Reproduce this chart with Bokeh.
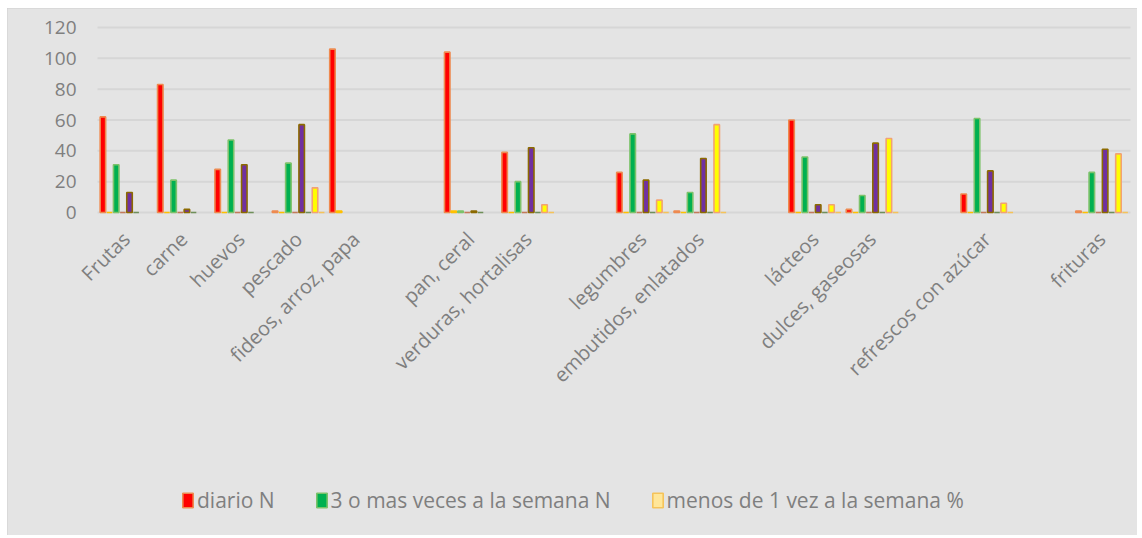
import math
from bokeh.plotting import figure
from bokeh.models import ColumnDataSource, Range1d, Legend, LegendItem
from bokeh.core.properties import value
from bokeh.transform import dodge
from bokeh.embed import file_html
from bokeh.resources import INLINE

nan = float("nan")

# categories (blank strings are empty slots on the axis)
categories = ["Frutas", "carne", "huevos", "pescado", "fideos, arroz, papa", "",
              "pan, ceral", "verduras, hortalisas", "", "legumbres",
              "embutidos, enlatados", "", "lácteos", "dulces, gaseosas", "",
              "refrescos con azúcar", "", "frituras"]

# series values (nan = no value in that slot)
diario_N        = [62, 83, 28, 1, 106, nan, 104, 39, nan, 26, 1, nan, 60, 2, nan, 12, nan, 1]
diario_pct      = [0, 0, 0, 0, 1, nan, 1, 0, nan, 0, 0, nan, 0, 0, nan, 0, nan, 0]
tres_o_mas_N    = [31, 21, 47, 32, nan, nan, 1, 20, nan, 51, 13, nan, 36, 11, nan, 61, nan, 26]
tres_o_mas_pct  = [0, 0, 0, 0, nan, nan, 0, 0, nan, 0, 0, nan, 0, 0, nan, 0, nan, 0]
una_dos_N       = [13, 2, 31, 57, nan, nan, 1, 42, nan, 21, 35, nan, 5, 45, nan, 27, nan, 41]
una_dos_pct     = [0, 0, 0, 0, nan, nan, 0, 0, nan, 0, 0, nan, 0, 0, nan, 0, nan, 0]
menos_de_1_N    = [nan, nan, nan, 16, nan, nan, nan, 5, nan, 8, 57, nan, 5, 48, nan, 6, nan, 38]
menos_de_1_pct  = [nan, nan, nan, 0, nan, nan, nan, 0, nan, 0, 0, nan, 0, 0, nan, 0, nan, 0]

y_ticks = [0, 20, 40, 60, 80, 100, 120]
y_tick_labels = [str(t) for t in y_ticks]

series_names = ["diario N", "diario %", "3 o mas veces a la semana N", "3 o mas veces a la semana %",
                "1 a 2 veces a la semana N", "1 a 2 veces a la semana %",
                "menos de 1 vez a la semana N", "menos de 1 vez a la semana %"]
series_data = [diario_N, diario_pct, tres_o_mas_N, tres_o_mas_pct,
               una_dos_N, una_dos_pct, menos_de_1_N, menos_de_1_pct]
fills = ["#FF0000", "#FFC000", "#00B050", "#C47A5A", "#7030A0", "#6F8F5A", "#FFFF00", "#FFE699"]
lines = ["#EE8A50", "#FFC000", "#7CC26A", "#C47A5A", "#8C6A00", "#6F8F5A", "#F2A273", "#F5C35A"]
legend_idx = [0, 2, 7]

n = len(categories)
slots = list(range(n))
src = ColumnDataSource(dict(slot=slots, cat=categories,
                            **{f"s{i}": d for i, d in enumerate(series_data)}))

BG = "#E4E4E4"
TXT = "#7F7F7F"
FONT = "Open Sans"

W, H = 1130, 527
# plot area (in figure pixels): left 90, right 1123, value 120 at 19, value 0 at 204
left_px, right_px, top_px, zero_px = 90, 1123, 19, 204
px_per_slot = (right_px - left_px) / n
x_start = -0.5 - left_px / px_per_slot
x_end = n - 0.5 + (W - right_px) / px_per_slot
px_per_unit = (zero_px - top_px) / 120.0
y_end = 120 + top_px / px_per_unit
y_start = -(H - zero_px) / px_per_unit

p = figure(width=W, height=H, x_range=Range1d(x_start, x_end), y_range=Range1d(y_start, y_end),
           output_backend="svg", toolbar_location=None,
           min_border_left=0, min_border_right=0, min_border_top=0, min_border_bottom=0)
p.background_fill_color = BG
p.border_fill_color = BG
p.outline_line_color = None
p.styles = {"margin": "8px 0 0 7px", "outline": "1px solid #CFCFCF", "outline-offset": "-1px"}
p.xaxis.visible = False
p.yaxis.visible = False
p.grid.visible = False

# horizontal gridlines across the plot area
p.segment(x0=-0.5, x1=n - 0.5, y0=y_ticks, y1=y_ticks, line_color="#D6D6D6", line_width=2)

step = 0.116
bw = 0.096
renderers = []
for i, d in enumerate(series_data):
    r = p.vbar(x=dodge("slot", (i - 3.5) * step), top=f"s{i}", width=bw,
               source=src, fill_color=fills[i], line_color=lines[i], line_width=1.6)
    renderers.append(r)

# y tick labels
p.text(x=-0.5, y=y_ticks, text=y_tick_labels, x_offset=-21,
       text_align="right", text_baseline="middle",
       text_font=value(FONT), text_font_size="19px", text_color=TXT)

# category labels, rotated, hanging under the zero line
p.text(x="slot", y=0, text="cat", source=src, angle=math.pi / 4,
       text_align="right", text_baseline="middle", x_offset=0, y_offset=23,
       text_font=value(FONT), text_font_size="20px", text_color=TXT)

items = [LegendItem(label=series_names[i], renderers=[renderers[i]]) for i in legend_idx]
legend = Legend(items=items, orientation="horizontal", location=(174, 21),
                background_fill_alpha=0, border_line_color=None,
                label_text_font=FONT, label_text_font_size="21px", label_text_color=TXT,
                glyph_width=13, glyph_height=18, label_standoff=3, spacing=40,
                padding=0, margin=0)
p.add_layout(legend, "center")

open("out.html", "w").write(file_html(p, INLINE))
